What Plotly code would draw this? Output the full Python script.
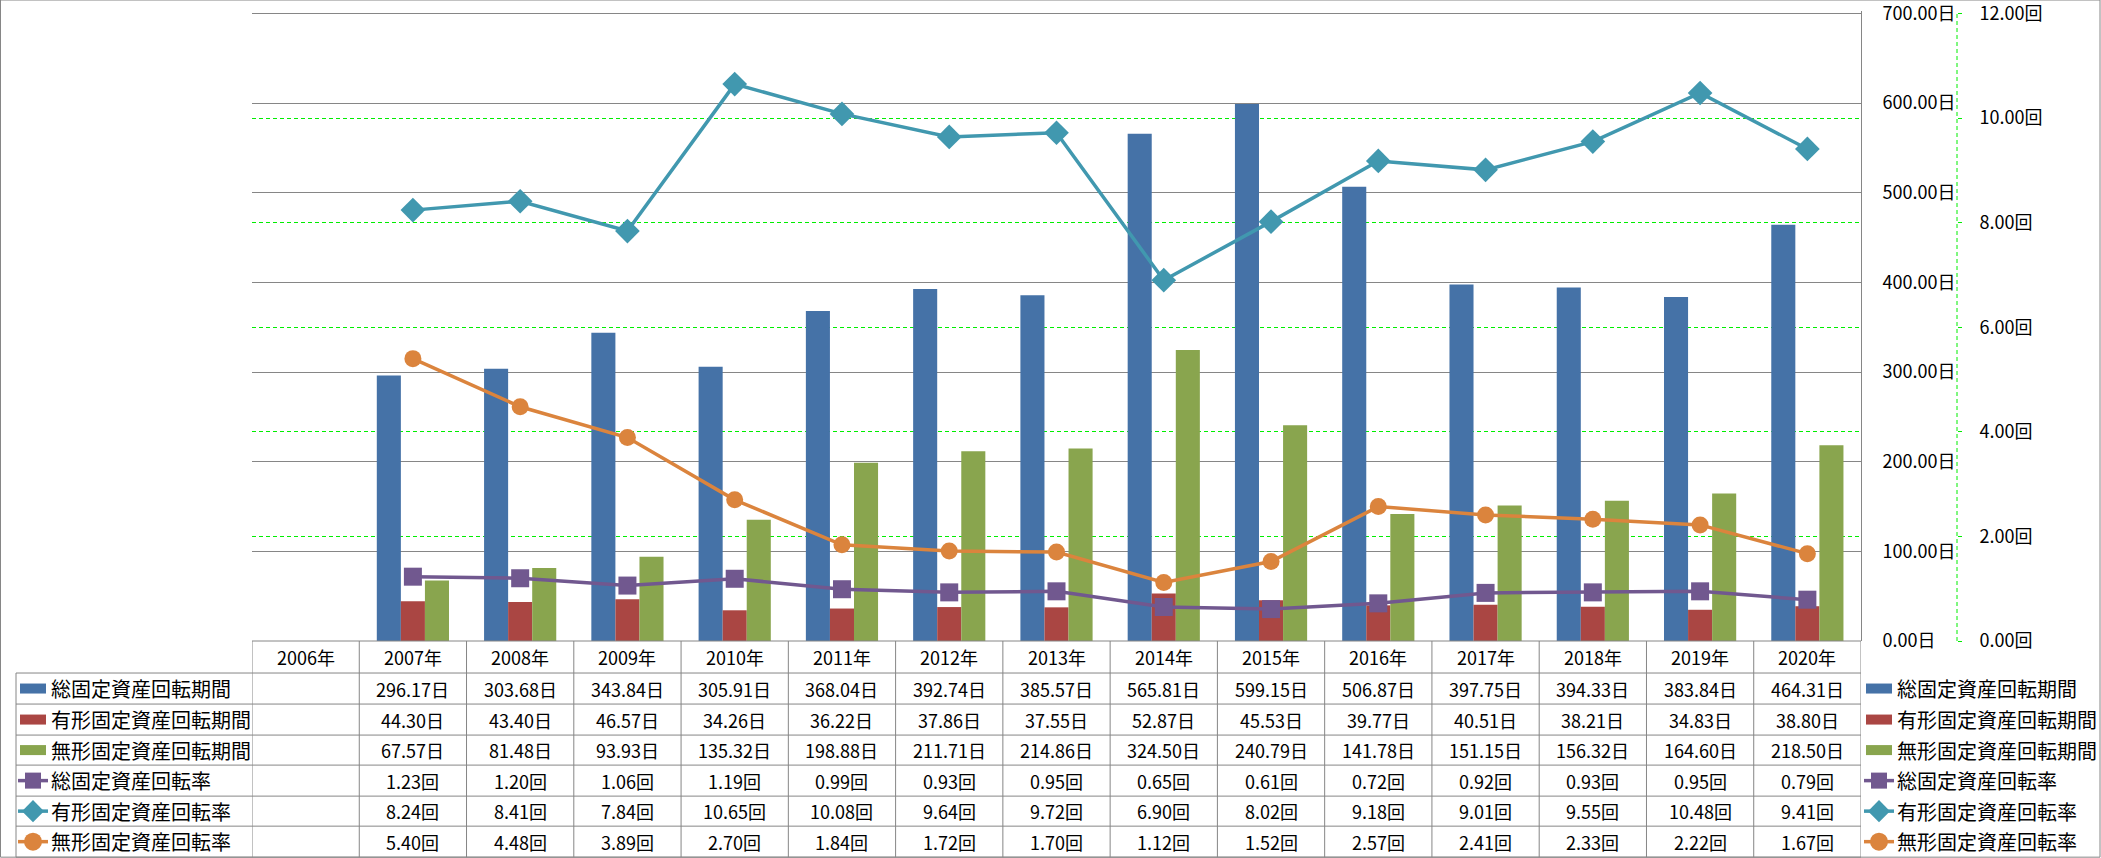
import plotly.graph_objects as go

years = ["2006年", "2007年", "2008年", "2009年", "2010年", "2011年", "2012年", "2013年",
         "2014年", "2015年", "2016年", "2017年", "2018年", "2019年", "2020年"]

total_days = [None, 296.17, 303.68, 343.84, 305.91, 368.04, 392.74, 385.57, 565.81, 599.15,
              506.87, 397.75, 394.33, 383.84, 464.31]
tangible_days = [None, 44.30, 43.40, 46.57, 34.26, 36.22, 37.86, 37.55, 52.87, 45.53,
                 39.77, 40.51, 38.21, 34.83, 38.80]
intangible_days = [None, 67.57, 81.48, 93.93, 135.32, 198.88, 211.71, 214.86, 324.50, 240.79,
                   141.78, 151.15, 156.32, 164.60, 218.50]
total_rate = [None, 1.23, 1.20, 1.06, 1.19, 0.99, 0.93, 0.95, 0.65, 0.61,
              0.72, 0.92, 0.93, 0.95, 0.79]
tangible_rate = [None, 8.24, 8.41, 7.84, 10.65, 10.08, 9.64, 9.72, 6.90, 8.02,
                 9.18, 9.01, 9.55, 10.48, 9.41]
intangible_rate = [None, 5.40, 4.48, 3.89, 2.70, 1.84, 1.72, 1.70, 1.12, 1.52,
                   2.57, 2.41, 2.33, 2.22, 1.67]

bar_names = ["総固定資産回転期間", "有形固定資産回転期間", "無形固定資産回転期間"]
line_names = ["総固定資産回転率", "有形固定資産回転率", "無形固定資産回転率"]

bar_colors = ["#4572A7", "#AA4643", "#89A54E"]
line_colors = ["#71588F", "#4198AF", "#DB843D"]
line_symbols = ["square", "diamond", "circle"]
marker_sizes = [18, 19, 17]

FONT = "Noto Sans CJK JP"
GRAY = "#868686"
GREEN = "#00EE00"

W, H = 2101, 858
PL, PR, PB = 252, 1861, 641
TOP_GRID = 14                 # pixel row of the 700 / 12 gridline
Y1_MAX, Y2_MAX = 700, 12
EXT = 1.004                   # small headroom so the top gridline is drawn
PH = (PB - TOP_GRID) * EXT
PT = PB - PH
SEC_X = 1957
PW_FULL = SEC_X - PL


def px2x(px):
    return (px - PL) / PW_FULL


def py2y(py):
    return (PB - py) / PH


fig = go.Figure()

bar_series = [total_days, tangible_days, intangible_days]
for name, vals, col in zip(bar_names, bar_series, bar_colors):
    fig.add_trace(go.Bar(x=years, y=vals, name=name, marker=dict(color=col, line=dict(width=0)),
                         hoverinfo="skip"))

line_series = [total_rate, tangible_rate, intangible_rate]
for name, vals, col, sym, ms in zip(line_names, line_series, line_colors, line_symbols, marker_sizes):
    fig.add_trace(go.Scatter(x=years, y=vals, name=name, yaxis="y2", mode="lines+markers",
                             line=dict(color=col, width=3.5),
                             marker=dict(symbol=sym, size=ms, color=col, line=dict(width=0)),
                             hoverinfo="skip"))

shapes = []
annotations = []

# outer border
shapes.append(dict(type="rect", xref="paper", yref="paper",
                   x0=px2x(0.5), x1=px2x(2100), y0=py2y(857), y1=py2y(0.5),
                   line=dict(color=GRAY, width=1), layer="above"))

# top primary gridline drawn over the coinciding secondary one
shapes.append(dict(type="line", xref="x", yref="y", x0=-0.5, x1=len(years) - 0.5,
                   y0=Y1_MAX, y1=Y1_MAX, line=dict(color=GRAY, width=1), layer="above"))

# secondary axis dashed line
shapes.append(dict(type="line", xref="paper", yref="paper", x0=1, x1=1,
                   y0=0, y1=py2y(TOP_GRID), line=dict(color=GREEN, width=1, dash="4px,3px")))

# table geometry
row_edges = [641, 673, 704, 735, 765, 796, 826, 857]
row_centers = [(row_edges[i] + row_edges[i + 1]) / 2 for i in range(7)]
LEG_L = 16

# horizontal table lines
shapes.append(dict(type="line", xref="paper", yref="paper", x0=px2x(PL), x1=px2x(PR),
                   y0=py2y(641), y1=py2y(641), line=dict(color=GRAY, width=1)))
for ye in row_edges[1:]:
    shapes.append(dict(type="line", xref="paper", yref="paper", x0=px2x(LEG_L), x1=px2x(PR),
                       y0=py2y(ye), y1=py2y(ye), line=dict(color=GRAY, width=1)))
# vertical table lines
shapes.append(dict(type="line", xref="paper", yref="paper", x0=px2x(LEG_L), x1=px2x(LEG_L),
                   y0=py2y(673), y1=py2y(857), line=dict(color=GRAY, width=1)))
for k in range(len(years) + 1):
    shapes.append(dict(type="line", xref="x", yref="paper", x0=k - 0.5, x1=k - 0.5,
                       y0=py2y(641), y1=py2y(857), line=dict(color=GRAY, width=1)))

# header
for yr in years:
    annotations.append(dict(x=yr, xref="x", y=py2y(row_centers[0]), yref="paper", text=yr,
                            showarrow=False, xanchor="center", yanchor="middle",
                            font=dict(family=FONT, size=18, color="#000000")))

# data rows
all_series = bar_series + line_series
suffixes = ["日", "日", "日", "回", "回", "回"]
for r, (vals, suf) in enumerate(zip(all_series, suffixes)):
    yc = py2y(row_centers[r + 1])
    for yr, v in zip(years, vals):
        if v is None:
            continue
        annotations.append(dict(x=yr, xref="x", y=yc, yref="paper", text=f"{v:.2f}{suf}",
                                showarrow=False, xanchor="center", yanchor="middle",
                                font=dict(family=FONT, size=18, color="#000000")))


def legend_key(x_left, yc_px, idx):
    """Draw key in pixel coords (x_left = left of key)."""
    yc = py2y(yc_px)
    if idx < 3:
        shapes.append(dict(type="rect", xref="paper", yref="paper",
                           x0=px2x(x_left + 4), x1=px2x(x_left + 30),
                           y0=py2y(yc_px + 5), y1=py2y(yc_px - 5),
                           fillcolor=bar_colors[idx], line=dict(width=0)))
    else:
        j = idx - 3
        col = line_colors[j]
        shapes.append(dict(type="line", xref="paper", yref="paper",
                           x0=px2x(x_left + 2), x1=px2x(x_left + 32), y0=yc, y1=yc,
                           line=dict(color=col, width=3.5)))
        cx = x_left + 17
        if j == 0:
            shapes.append(dict(type="rect", xref="paper", yref="paper",
                               x0=px2x(cx - 8), x1=px2x(cx + 8),
                               y0=py2y(yc_px + 8), y1=py2y(yc_px - 8),
                               fillcolor=col, line=dict(width=0)))
        elif j == 1:
            r = 11
            path = (f"M {px2x(cx - r)},{yc} L {px2x(cx)},{py2y(yc_px - r)} "
                    f"L {px2x(cx + r)},{yc} L {px2x(cx)},{py2y(yc_px + r)} Z")
            shapes.append(dict(type="path", xref="paper", yref="paper", path=path,
                               fillcolor=col, line=dict(width=0)))
        else:
            shapes.append(dict(type="circle", xref="paper", yref="paper",
                               x0=px2x(cx - 9), x1=px2x(cx + 9),
                               y0=py2y(yc_px + 9), y1=py2y(yc_px - 9),
                               fillcolor=col, line=dict(width=0)))


all_names = bar_names + line_names
for i, nm in enumerate(all_names):
    yc_px = row_centers[i + 1]
    legend_key(16, yc_px, i)
    annotations.append(dict(x=px2x(49), xref="paper", y=py2y(yc_px), yref="paper", text=nm,
                            showarrow=False, xanchor="left", yanchor="middle",
                            font=dict(family=FONT, size=20, color="#000000")))
    legend_key(1862, yc_px, i)
    annotations.append(dict(x=px2x(1895), xref="paper", y=py2y(yc_px), yref="paper", text=nm,
                            showarrow=False, xanchor="left", yanchor="middle",
                            font=dict(family=FONT, size=20, color="#000000")))

fig.update_layout(
    width=W, height=H, autosize=False,
    margin=dict(l=PL, r=W - SEC_X, t=PT, b=H - PB, pad=0, autoexpand=False),
    paper_bgcolor="white", plot_bgcolor="white",
    showlegend=False,
    barmode="group", bargap=0.327, bargroupgap=0,
    font=dict(family=FONT, size=18, color="#000000"),
    xaxis=dict(type="category", showticklabels=False, ticks="", showgrid=False,
               showline=False, zeroline=False, range=[-0.5, len(years) - 0.5],
               domain=[0, px2x(PR)], automargin=False),
    yaxis=dict(side="right", range=[0, Y1_MAX * EXT], tick0=0, dtick=100, tickformat=".2f",
               ticksuffix="日", ticklabeloverflow="allow", automargin=False,
               showgrid=True, gridcolor=GRAY, gridwidth=1, showline=True, linecolor=GRAY,
               linewidth=1, zeroline=False, ticks="", ticklabelstandoff=17,
               tickfont=dict(family=FONT, size=18, color="#000000")),
    yaxis2=dict(overlaying="y", side="right", anchor="free", position=1,
                range=[0, Y2_MAX * EXT], tick0=0, dtick=2, tickformat=".2f", ticksuffix="回",
                ticklabeloverflow="allow", automargin=False,
                showgrid=True, gridcolor=GREEN, gridwidth=1, griddash="4px,3px",
                showline=False, zeroline=False, ticks="outside", ticklen=4, tickcolor=GREEN,
                ticklabelstandoff=14, tickfont=dict(family=FONT, size=18, color="#000000")),
    shapes=shapes,
    annotations=annotations,
)

fig.write_html("out.html", config={"displayModeBar": False},
               post_script="document.body.style.margin='0';document.body.style.overflow='hidden';")
